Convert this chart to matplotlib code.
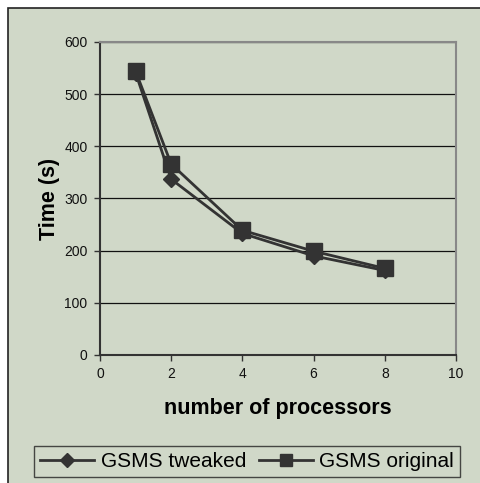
import matplotlib
matplotlib.use("Agg")
import matplotlib.pyplot as plt
from matplotlib.patches import Rectangle

# data
procs = [1, 2, 4, 6, 8]
tweaked = [541, 337, 233, 190, 162]
original = [544, 366, 239, 199, 166]

BG = "#D0D8C8"
INK = "#333333"

plt.rcParams["font.family"] = ["Liberation Sans", "DejaVu Sans"]

W, H = 481, 483
fig = plt.figure(figsize=(W / 100, H / 100), dpi=100)
fig.patch.set_facecolor("white")

# chart-area frame (left/top edges visible, right/bottom run off the image)
fig.patches.append(Rectangle((8 / W, -0.05), 1.2, 1 - 8 / H + 0.05,
                             transform=fig.transFigure, facecolor=BG,
                             edgecolor="#222222", lw=1.2, zorder=-5))

ax = fig.add_axes([100 / W, 1 - 355 / H, 356 / W, 313 / H])
ax.set_facecolor(BG)

ax.plot(procs, tweaked, color=INK, lw=2, marker="D", ms=8, mfc=INK, mec=INK,
        label="GSMS tweaked", zorder=3)
ax.plot(procs, original, color=INK, lw=2, marker="s", ms=11, mfc=INK, mec=INK,
        label="GSMS original", zorder=4)

ax.set_xlim(0, 10)
ax.set_ylim(0, 600)
ax.set_xticks(range(0, 11, 2))
ax.set_yticks(range(0, 601, 100))
ax.yaxis.grid(True, color="#111111", lw=0.9)
ax.set_axisbelow(True)

for side in ("left", "bottom"):
    ax.spines[side].set_color(INK)
    ax.spines[side].set_linewidth(1.5)
for side in ("top", "right"):
    ax.spines[side].set_color("#888888")
    ax.spines[side].set_linewidth(1.5)

ax.tick_params(direction="out", length=4, width=1, color=INK,
               labelsize=10, labelcolor="#111111", pad=5)

ax.set_xlabel("number of processors", fontsize=15.5, fontweight="bold", labelpad=12)
ax.set_ylabel("Time (s)", fontsize=15.5, fontweight="bold", labelpad=3)

leg = fig.legend(loc="center", bbox_to_anchor=(247 / W, 1 - 461.5 / H), ncol=2,
                 fontsize=15, frameon=True, fancybox=False, handlelength=2.6,
                 handletextpad=0.3, columnspacing=0.6, borderpad=0.3,
                 borderaxespad=0, markerscale=0.85)
leg.set_zorder(5)
leg.get_frame().set_facecolor(BG)
leg.get_frame().set_edgecolor("#222222")
leg.get_frame().set_linewidth(1)

fig.savefig("out.png", dpi=100, facecolor=fig.get_facecolor())
